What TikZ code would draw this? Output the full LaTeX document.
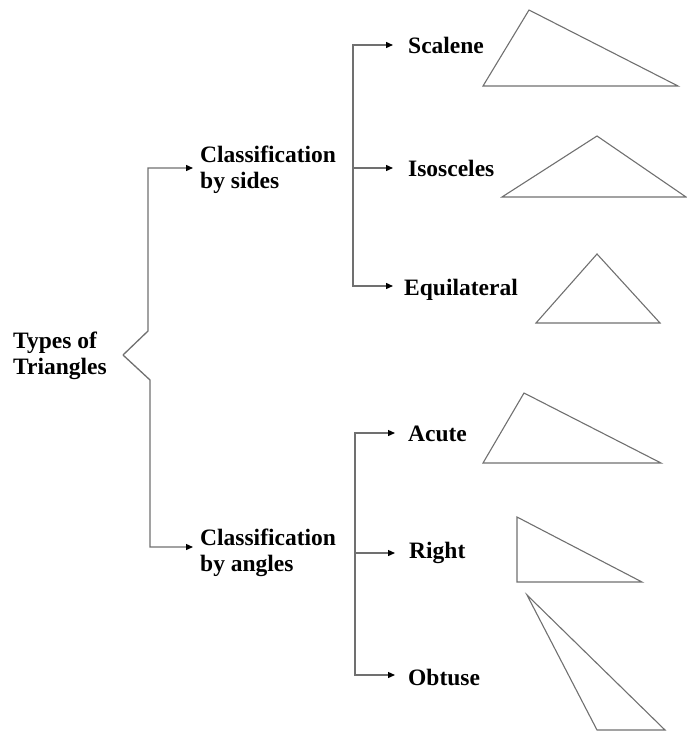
\documentclass[tikz,border=0pt]{standalone}
\usepackage{fontspec}
\setmainfont{Liberation Serif}
\usetikzlibrary{arrows.meta}
\definecolor{linegray}{HTML}{707070}
\tikzset{
  lbl/.style={anchor=west, inner sep=0pt, align=left, font=\fontsize{23.5}{26}\selectfont\bfseries},
  conn/.style={draw=linegray, line width=1.3pt},
  arr/.style={conn, -{Triangle[length=7pt,width=6pt,fill=black,color=black]}},
  tri/.style={draw=linegray, line width=1.1pt, line join=miter}
}
\begin{document}
\begin{tikzpicture}[x=1pt,y=-1pt]
\useasboundingbox (0,0) rectangle (686,733);
% labels
\node[lbl] (types) at (13,356) {Types of\\Triangles};
\node[lbl] (sides) at (200,170) {Classification\\by sides};
\node[lbl] (angles) at (200,553) {Classification\\by angles};
\node[lbl] (scalene) at (408,45) {Scalene};
\node[lbl] (isos) at (408,168) {Isosceles};
\node[lbl] (equi) at (404,290) {Equilateral};
\node[lbl] (acute) at (408,434) {Acute};
\node[lbl] (right) at (409,553) {Right};
\node[lbl] (obtuse) at (408,677) {Obtuse};
% branch points
\coordinate (tip) at (123,355);
\coordinate (zu) at (148,331);
\coordinate (zd) at (150,380);
\coordinate (sb) at (353,168);
\coordinate (ab) at (355,553);
% main connectors
\draw[arr] (tip) -- (zu) |- ([xshift=-7pt,yshift=2pt]sides.west);
\draw[arr] (tip) -- (zd) |- ([xshift=-7pt,yshift=6pt]angles.west);
% sides branch
\draw[arr] (sb) |- ([xshift=-15pt]scalene.west);
\draw[arr] (sb) -- ([xshift=-15pt]isos.west);
\draw[arr] (sb) |- ([xshift=-11pt,yshift=4pt]equi.west);
% angles branch
\draw[arr] (ab) |- ([xshift=-13pt,yshift=1pt]acute.west);
\draw[arr] (ab) -- ([xshift=-14pt]right.west);
\draw[arr] (ab) |- ([xshift=-13pt,yshift=2pt]obtuse.west);
% triangles
\draw[tri] (483,86) -- (529,10) -- (678,86) -- cycle;
\draw[tri] (502,197) -- (597,136) -- (686,197) -- cycle;
\draw[tri] (536,323) -- (597,254) -- (660,323) -- cycle;
\draw[tri] (483,463) -- (524,393) -- (661,463) -- cycle;
\draw[tri] (517,517) -- (517,582) -- (642,582) -- cycle;
\draw[tri] (527,595) -- (597,730) -- (665,730) -- cycle;
\end{tikzpicture}
\end{document}
